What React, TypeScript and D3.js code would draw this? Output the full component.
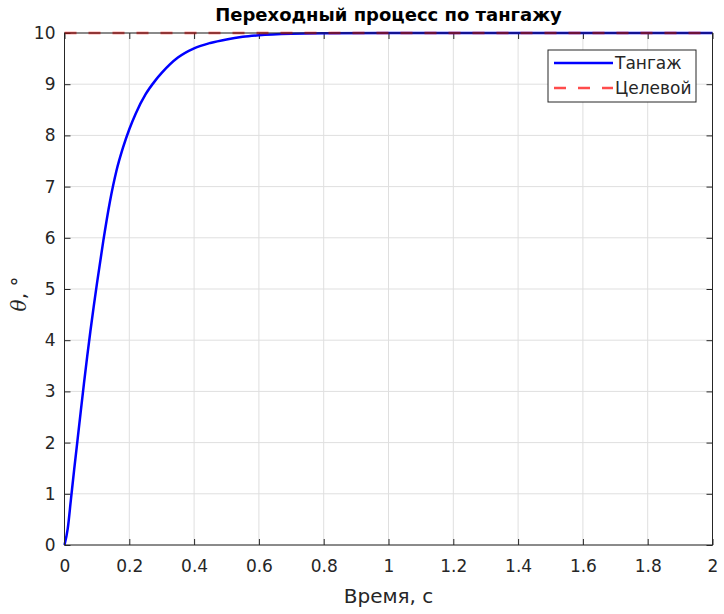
import { useEffect, useRef } from 'react';
import * as d3 from 'd3';

// values
const timeS = [0, 0.01, 0.02, 0.03, 0.04, 0.05, 0.06, 0.07, 0.08, 0.09, 0.1, 0.12, 0.14, 0.16, 0.18, 0.2, 0.22, 0.25, 0.28, 0.3, 0.35, 0.4, 0.45, 0.5, 0.55, 0.6, 0.7, 0.8, 1.0, 1.5, 2.0];
const pitchDeg = [0, 0.32, 0.9, 1.48, 2.04, 2.6, 3.15, 3.68, 4.18, 4.65, 5.1, 5.95, 6.7, 7.3, 7.75, 8.12, 8.43, 8.8, 9.07, 9.22, 9.52, 9.7, 9.805, 9.875, 9.925, 9.955, 9.985, 9.995, 10, 10, 10];
const targetT = [0, 2];
const targetDeg = [10, 10];
const xTicks = [0, 0.2, 0.4, 0.6, 0.8, 1, 1.2, 1.4, 1.6, 1.8, 2];
const yTicks = [0, 1, 2, 3, 4, 5, 6, 7, 8, 9, 10];
const legendLabels = ['Тангаж', 'Целевой'];

const W = 724;
const H = 614;
const FONT = 'DejaVu Sans, Verdana, sans-serif';
const INK = '#262626';

const App = () => {
  const svgRef = useRef<SVGSVGElement>(null);

  useEffect(() => {
    if (!svgRef.current) return;
    const svg = d3.select(svgRef.current);
    svg.selectAll('*').remove();

    const margin = { top: 33, right: 11.5, bottom: 69, left: 64.5 };
    const innerW = W - margin.left - margin.right;
    const innerH = H - margin.top - margin.bottom;

    const x = d3.scaleLinear().domain([0, 2]).range([0, innerW]);
    const y = d3.scaleLinear().domain([0, 10]).range([innerH, 0]);

    svg.append('rect').attr('width', W).attr('height', H).attr('fill', '#fff');

    const g = svg.append('g').attr('transform', `translate(${margin.left},${margin.top})`);

    // grid
    g.append('g')
      .selectAll('line')
      .data(xTicks)
      .enter().append('line')
      .attr('x1', d => x(d)).attr('x2', d => x(d))
      .attr('y1', 0).attr('y2', innerH)
      .attr('stroke', '#dfdfdf').attr('stroke-width', 1);
    g.append('g')
      .selectAll('line')
      .data(yTicks)
      .enter().append('line')
      .attr('x1', 0).attr('x2', innerW)
      .attr('y1', d => y(d)).attr('y2', d => y(d))
      .attr('stroke', '#dfdfdf').attr('stroke-width', 1);

    const styleAxis = (sel: d3.Selection<SVGGElement, unknown, null, undefined>) => {
      sel.select('.domain').remove();
      sel.selectAll('line').attr('stroke', INK);
      sel.selectAll('text').attr('fill', INK).style('font-family', FONT).style('font-size', '17px');
    };

    g.append('g')
      .attr('transform', `translate(0,${innerH})`)
      .call(d3.axisBottom(x).tickValues(xTicks).tickSize(-6).tickPadding(15).tickFormat(d => d3.format('~g')(d as number)))
      .call(styleAxis);
    g.append('g')
      .call(d3.axisTop(x).tickValues(xTicks).tickSize(-6).tickFormat(() => ''))
      .call(styleAxis);
    g.append('g')
      .call(d3.axisLeft(y).tickValues(yTicks).tickSize(-6).tickPadding(9))
      .call(styleAxis);
    g.append('g')
      .attr('transform', `translate(${innerW},0)`)
      .call(d3.axisRight(y).tickValues(yTicks).tickSize(-6).tickFormat(() => ''))
      .call(styleAxis);

    const line = d3.line<[number, number]>()
      .x(d => x(d[0]))
      .y(d => y(d[1]))
      .curve(d3.curveMonotoneX);

    g.append('path')
      .datum(timeS.map((t, i) => [t, pitchDeg[i]] as [number, number]))
      .attr('d', line)
      .attr('fill', 'none')
      .attr('stroke', '#0000ff')
      .attr('stroke-width', 2.5);

    g.append('path')
      .datum(targetT.map((t, i) => [t, targetDeg[i]] as [number, number]))
      .attr('d', d3.line<[number, number]>().x(d => x(d[0])).y(d => y(d[1])))
      .attr('fill', 'none')
      .attr('stroke', '#ff0000')
      .attr('stroke-opacity', 0.7)
      .attr('stroke-width', 2.5)
      .attr('stroke-dasharray', '12,12');

    // box
    g.append('rect')
      .attr('width', innerW).attr('height', innerH)
      .attr('fill', 'none').attr('stroke', INK).attr('stroke-width', 1);

    // legend
    const lg = svg.append('g').attr('transform', 'translate(548,50)');
    lg.append('rect').attr('width', 148).attr('height', 52)
      .attr('fill', '#fff').attr('stroke', INK).attr('stroke-width', 1);
    const legendStyles = [
      { color: '#0000ff', opacity: 1, dash: null as string | null },
      { color: '#ff0000', opacity: 0.7, dash: '12,12' },
    ];
    legendLabels.forEach((label, i) => {
      const yy = 13 + i * 25;
      lg.append('line')
        .attr('x1', 6).attr('x2', 65).attr('y1', yy).attr('y2', yy)
        .attr('stroke', legendStyles[i].color)
        .attr('stroke-opacity', legendStyles[i].opacity)
        .attr('stroke-width', 2.5)
        .attr('stroke-dasharray', legendStyles[i].dash);
      lg.append('text')
        .attr('x', 67).attr('y', yy + 6)
        .attr('fill', INK)
        .style('font-family', FONT).style('font-size', '17px')
        .text(label);
    });

    // title and axis labels
    svg.append('text')
      .attr('x', margin.left + innerW / 2).attr('y', 21)
      .attr('text-anchor', 'middle')
      .attr('fill', '#000')
      .style('font-family', FONT).style('font-size', '18px').style('font-weight', 'bold')
      .text('Переходный процесс по тангажу');

    svg.append('text')
      .attr('x', margin.left + innerW / 2).attr('y', 603)
      .attr('text-anchor', 'middle')
      .attr('fill', INK)
      .style('font-family', FONT).style('font-size', '20px')
      .text('Время, с');

    svg.append('text')
      .attr('transform', 'translate(26,294) rotate(-90)')
      .attr('text-anchor', 'middle')
      .attr('fill', INK)
      .style('font-family', 'DejaVu Serif, Liberation Serif, serif').style('font-size', '20px')
      .call(t => {
        t.append('tspan').style('font-style', 'italic').text('θ');
        t.append('tspan').style('font-family', FONT).text(', °');
      });
  }, []);

  return (
    <svg
      ref={svgRef}
      width={W}
      height={H}
      style={{ position: 'absolute', left: 0, top: 0, display: 'block' }}
    />
  );
};

export default App;
